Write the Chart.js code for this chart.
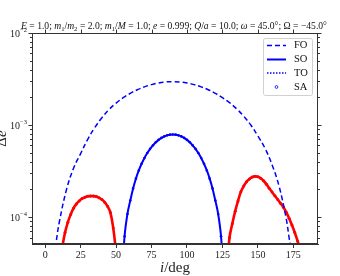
<!DOCTYPE html>
<html>
<head>
<meta charset="utf-8">
<script src="https://cdn.jsdelivr.net/npm/chart.js@4.4.0/dist/chart.umd.min.js"></script>
<style>
  html, body { margin: 0; padding: 0; background: #fff; }
</style>
</head>
<body>
<canvas id="mycanvas" width="340" height="276"></canvas>
<script>
// FO curve (blue dashed)
var foAngles = [4, 6, 8, 10, 15, 20, 25, 30, 35, 40, 45, 50, 55, 60, 65, 70, 75, 80, 85, 90,
  95, 100, 105, 110, 115, 120, 125, 130, 135, 140, 145, 150, 155, 160, 165, 170, 172, 174, 176];
var foValues = [1.4e-5, 3.2e-5, 5.7e-5, 8.9e-5, 1.98e-4, 3.40e-4, 4.9e-4, 7.0e-4, 9.4e-4, 1.20e-3,
  1.47e-3, 1.73e-3, 1.98e-3, 2.21e-3, 2.42e-3, 2.60e-3, 2.75e-3, 2.87e-3, 2.94e-3, 2.96e-3,
  2.94e-3, 2.87e-3, 2.75e-3, 2.60e-3, 2.42e-3, 2.21e-3, 1.98e-3, 1.75e-3, 1.50e-3, 1.25e-3,
  1.0e-3, 7.6e-4, 5.6e-4, 3.7e-4, 2.15e-4, 9.6e-5, 6.0e-5, 3.8e-5, 1.8e-5];

// SO curve, signed (positive = blue, negative = red |value|)
var soAngles = [10, 12, 14, 16, 18, 20, 22, 24, 26, 28, 30, 32, 34, 36, 38, 40, 42, 44, 46, 48,
  50, 52, 54, 56, 58, 60, 62, 64, 66, 68, 70, 72, 74, 76, 78, 80, 82, 84, 86, 88,
  90, 92, 94, 96, 98, 100, 102, 104, 106, 108, 110, 112, 114, 116, 118, 120, 122, 124, 126, 128,
  130, 132, 134, 136, 138, 140, 142, 144, 146, 148, 150, 152, 154, 156, 158, 160, 162, 164, 166, 168,
  170, 172, 174, 176, 178, 180];
var soValues = [-2.5e-5, -4.6e-5, -6.8e-5, -8.8e-5, -1.07e-4, -1.25e-4, -1.39e-4, -1.50e-4, -1.59e-4, -1.64e-4,
  -1.68e-4, -1.69e-4, -1.69e-4, -1.67e-4, -1.62e-4, -1.55e-4, -1.45e-4, -1.31e-4, -1.12e-4, -7.6e-5,
  -4.0e-5, -1.2e-5, 2.0e-5, 6.2e-5, 1.08e-4, 1.51e-4, 2.05e-4, 2.62e-4, 3.21e-4, 3.80e-4,
  4.39e-4, 4.96e-4, 5.51e-4, 6.02e-4, 6.49e-4, 6.90e-4, 7.25e-4, 7.53e-4, 7.73e-4, 7.86e-4,
  7.90e-4, 7.86e-4, 7.73e-4, 7.53e-4, 7.25e-4, 6.90e-4, 6.49e-4, 6.02e-4, 5.51e-4, 4.96e-4,
  4.39e-4, 3.80e-4, 3.21e-4, 2.62e-4, 2.05e-4, 1.51e-4, 1.08e-4, 6.2e-5, 2.0e-5, -2.5e-5,
  -6.0e-5, -8.5e-5, -1.16e-4, -1.50e-4, -1.88e-4, -2.17e-4, -2.42e-4, -2.60e-4, -2.72e-4, -2.77e-4,
  -2.74e-4, -2.64e-4, -2.48e-4, -2.28e-4, -2.06e-4, -1.87e-4, -1.70e-4, -1.55e-4, -1.41e-4, -1.28e-4,
  -1.13e-4, -9.7e-5, -8.2e-5, -6.8e-5, -5.5e-5, -4.4e-5];

var xTicks = [0, 25, 50, 75, 100, 125, 150, 175];
var yTicks = [1e-4, 1e-3, 1e-2];
var yTickExp = ['\u22124', '\u22123', '\u22122'];
var legendLabels = ['FO', 'SO', 'TO', 'SA'];

var SERIF = '"Liberation Serif", "DejaVu Serif", serif';

var foData = [];
for (var i in foAngles) {
  foData.push({x: foAngles[i], y: foValues[i]});
}
var blueData = [];
var redData = [];
for (var j in soAngles) {
  var v = soValues[j];
  blueData.push({x: soAngles[j], y: v > 0 ? v : null});
  redData.push({x: soAngles[j], y: v < 0 ? -v : null});
}

function font(size, italic) {
  return (italic ? 'italic ' : '') + size + 'px ' + SERIF;
}

// text runs: [text, style] style n=normal, i=italic, s=subscript
function measureRuns(ctx, runs, size) {
  var widths = [];
  for (var k = 0; k < runs.length; k++) {
    var st = runs[k][1];
    ctx.font = font(st == 's' ? size * 0.7 : size, st == 'i');
    widths.push(ctx.measureText(runs[k][0]).width);
  }
  return widths;
}

function drawRuns(ctx, runs, x, y, size, align) {
  var widths = measureRuns(ctx, runs, size);
  var total = 0;
  for (var w in widths) total += widths[w];
  var cx = align == 'center' ? x - total / 2 : (align == 'right' ? x - total : x);
  for (var k = 0; k < runs.length; k++) {
    var st = runs[k][1];
    ctx.font = font(st == 's' ? size * 0.7 : size, st == 'i');
    ctx.fillText(runs[k][0], cx, st == 's' ? y + size * 0.25 : y);
    cx += widths[k];
  }
  return total;
}

var titleRuns = [['E', 'i'], [' = 1.0; ', 'n'], ['m', 'i'], ['1', 's'], ['/', 'n'], ['m', 'i'], ['2', 's'],
  [' = 2.0; ', 'n'], ['m', 'i'], ['1', 's'], ['/', 'n'], ['M', 'i'], [' = 1.0; ', 'n'], ['e', 'i'],
  [' = 0.999; ', 'n'], ['Q', 'i'], ['/', 'n'], ['a', 'i'], [' = 10.0; ', 'n'], ['\u03c9', 'i'],
  [' = 45.0\u00b0; ', 'n'], ['\u03a9', 'n'], [' = \u221245.0\u00b0', 'n']];

var decor = {
  id: 'decor',
  afterDraw: function(chart) {
    var ctx = chart.ctx;
    var a = chart.chartArea;
    var xs = chart.scales.x;
    var ys = chart.scales.y;
    ctx.save();
    ctx.strokeStyle = '#333';
    ctx.fillStyle = '#222';
    ctx.lineWidth = 1;
    // frame
    ctx.strokeRect(a.left + 0.5, a.top + 0.5, a.right - a.left - 1, a.bottom - a.top - 1);
    // top ticks
    ctx.beginPath();
    for (var t in xTicks) {
      var px = Math.round(xs.getPixelForValue(xTicks[t])) + 0.5;
      ctx.moveTo(px, a.top);
      ctx.lineTo(px, a.top - 3.5);
    }
    // y ticks, left and right
    for (var d = -5; d <= -3; d++) {
      for (var m = 1; m <= 9; m++) {
        var val = m * Math.pow(10, d);
        if (val < ys.min || val > ys.max * 1.0001) continue;
        var py = Math.round(ys.getPixelForValue(val)) + 0.5;
        var len = m == 1 ? 3.5 : 2;
        ctx.moveTo(a.left, py);
        ctx.lineTo(a.left - len, py);
        ctx.moveTo(a.right, py);
        ctx.lineTo(a.right + len, py);
      }
    }
    var ptop = Math.round(ys.getPixelForValue(1e-2)) + 0.5;
    ctx.moveTo(a.left, ptop);
    ctx.lineTo(a.left - 3.5, ptop);
    ctx.moveTo(a.right, ptop);
    ctx.lineTo(a.right + 3.5, ptop);
    ctx.stroke();

    // y tick labels 10^n
    ctx.textBaseline = 'alphabetic';
    ctx.textAlign = 'left';
    for (var q in yTicks) {
      var yy = ys.getPixelForValue(yTicks[q]);
      ctx.font = font(6.5, false);
      var ew = ctx.measureText(yTickExp[q]).width;
      var ex = a.left - 5 - ew;
      ctx.fillText(yTickExp[q], ex, yy - 1);
      ctx.font = font(10, false);
      var bw = ctx.measureText('10').width;
      ctx.fillText('10', ex - bw, yy + 3.5);
    }

    // x label
    drawRuns(ctx, [['i', 'i'], ['/deg', 'n']], (a.left + a.right) / 2, 272, 15, 'center');

    // y label (mostly off canvas)
    ctx.save();
    ctx.translate(6, (a.top + a.bottom) / 2);
    ctx.rotate(-Math.PI / 2);
    drawRuns(ctx, [['\u0394', 'n'], ['e', 'i']], 0, 0, 15, 'center');
    ctx.restore();

    // title, fitted to width
    ctx.fillStyle = '#111';
    var tws = measureRuns(ctx, titleRuns, 10);
    var tw = 0;
    for (var z in tws) tw += tws[z];
    var tsize = 10 * 306 / tw;
    drawRuns(ctx, titleRuns, (a.left + a.right) / 2 - 1, 29, tsize, 'center');

    // legend
    var lx = 263, ly = 38, lw = 49, lh = 57;
    ctx.fillStyle = 'rgba(255,255,255,0.85)';
    ctx.strokeStyle = '#d0d0d0';
    ctx.lineWidth = 1;
    ctx.beginPath();
    ctx.roundRect(lx + 0.5, ly + 0.5, lw, lh, 2);
    ctx.fill();
    ctx.stroke();
    var rows = [45, 59, 72.5, 86.5];
    ctx.strokeStyle = '#0000ff';
    ctx.fillStyle = '#0000ff';
    for (var r = 0; r < 4; r++) {
      var ry = rows[r] + 0.5;
      ctx.beginPath();
      if (r == 0) { ctx.setLineDash([5, 3]); ctx.lineWidth = 1.5; }
      if (r == 1) { ctx.setLineDash([]); ctx.lineWidth = 2; }
      if (r == 2) { ctx.setLineDash([1.5, 1.5]); ctx.lineWidth = 1.5; }
      if (r < 3) {
        ctx.moveTo(267, ry);
        ctx.lineTo(286, ry);
        ctx.stroke();
      } else {
        ctx.setLineDash([]);
        ctx.lineWidth = 0.8;
        ctx.arc(276.5, ry, 1.4, 0, Math.PI * 2);
        ctx.stroke();
      }
    }
    ctx.setLineDash([]);
    ctx.fillStyle = '#111';
    ctx.font = font(10.5, false);
    ctx.textBaseline = 'middle';
    for (var s = 0; s < 4; s++) {
      ctx.fillText(legendLabels[s], 294, rows[s] + 0.5);
    }
    ctx.restore();
  }
};

var ctx = document.getElementById('mycanvas');
var chart = new Chart(ctx, {
  type: 'line',
  data: {
    datasets: [
      {
        label: 'FO',
        data: foData,
        borderColor: '#0000ff',
        borderWidth: 1.5,
        borderDash: [5, 3],
        pointRadius: 0,
        tension: 0.4,
        clip: 0
      },
      {
        label: 'SO',
        data: blueData,
        borderColor: '#0000ff',
        backgroundColor: '#0000ff',
        borderWidth: 2,
        pointRadius: 1.3,
        pointBorderWidth: 0,
        tension: 0.4,
        spanGaps: false,
        clip: 0
      },
      {
        label: 'SO neg',
        data: redData,
        borderColor: '#ff0000',
        backgroundColor: '#ff0000',
        borderWidth: 2.6,
        pointRadius: 1.5,
        pointBorderWidth: 0,
        tension: 0.4,
        spanGaps: false,
        clip: 0
      }
    ]
  },
  options: {
    responsive: false,
    animation: false,
    layout: { padding: { left: 0, right: 22, top: 33, bottom: 0 } },
    plugins: {
      legend: { display: false },
      title: { display: false },
      tooltip: { enabled: false }
    },
    scales: {
      x: {
        type: 'linear',
        min: -9.3,
        max: 192.4,
        afterBuildTicks: function(scale) {
          scale.ticks = xTicks.map(function(v) { return {value: v}; });
        },
        afterFit: function(scale) { scale.height = 32; },
        ticks: {
          font: { family: SERIF, size: 10 },
          color: '#222',
          padding: 1,
          maxRotation: 0,
          autoSkip: false
        },
        grid: { drawOnChartArea: false, tickLength: 4, color: '#333' },
        border: { color: '#333' }
      },
      y: {
        type: 'logarithmic',
        min: 5.1e-5,
        max: 1e-2,
        afterFit: function(scale) { scale.width = 32; },
        ticks: { display: false },
        grid: { display: false },
        border: { display: false }
      }
    }
  },
  plugins: [decor]
});
</script>
</body>
</html>
